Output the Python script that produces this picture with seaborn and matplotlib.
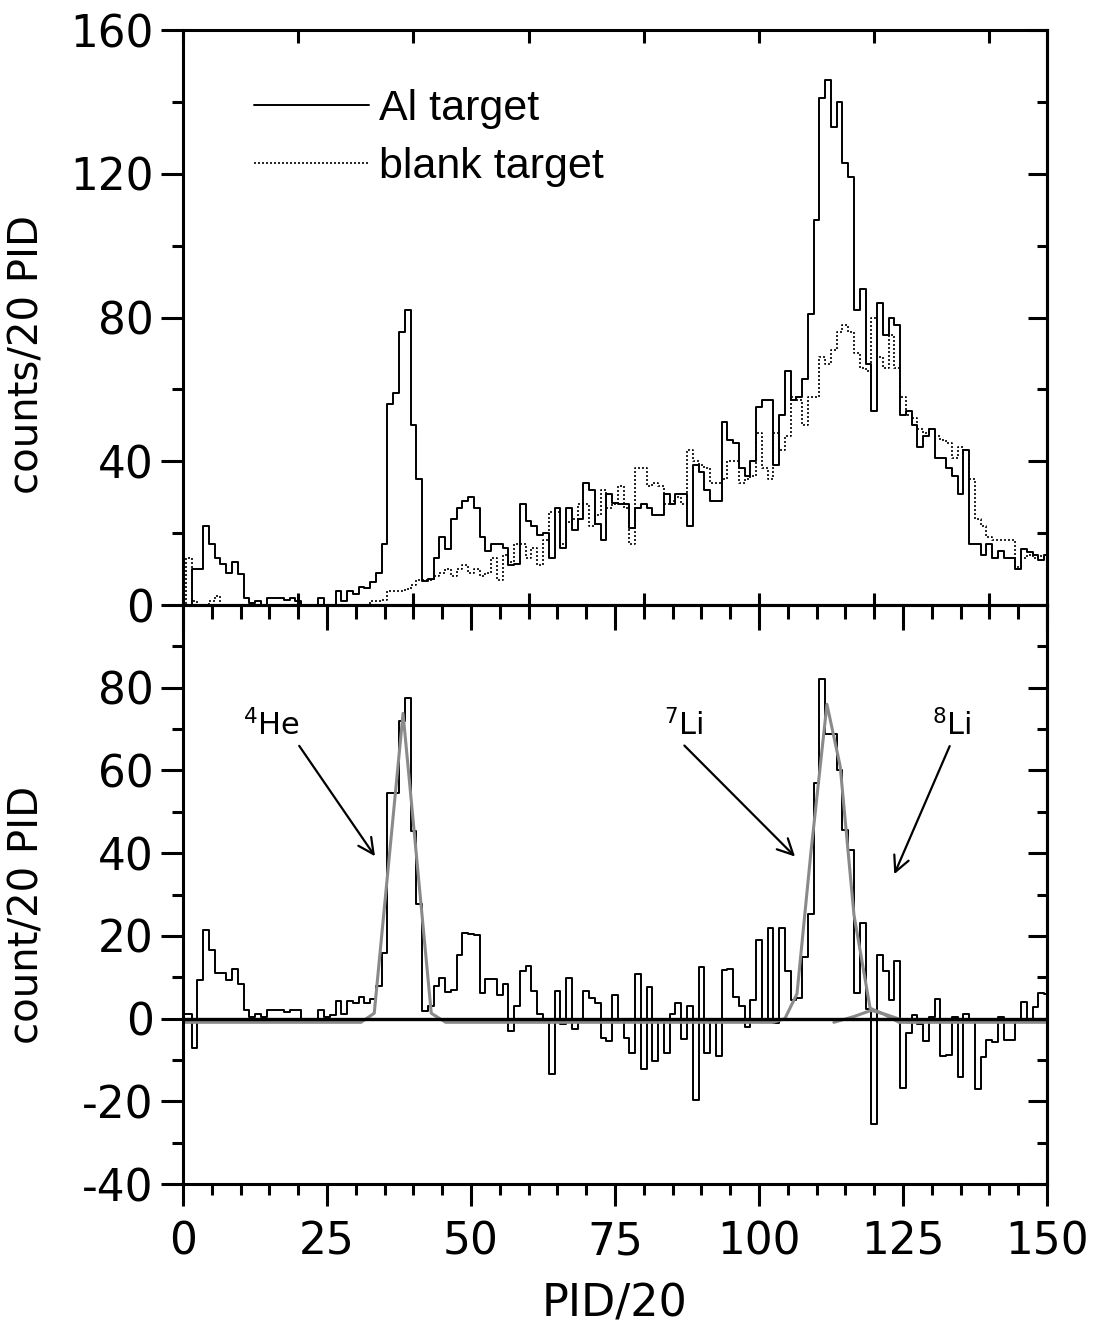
import numpy as np
import pandas as pd
import matplotlib
matplotlib.use("Agg")
import matplotlib.pyplot as plt
import seaborn as sns

# PID/20 bin centres
pid_bins = list(range(0, 151))

# counts per bin, Al target (top panel, solid)
al_target = [
    0, 0, 10, 10, 22, 17, 13, 11.5, 9, 12,
    8.5, 2, 0.5, 1, 0, 2, 2, 2, 1.5, 2,
    1, 0, 0, 0, 2, 0, 0, 4, 1, 4,
    3, 5, 4.7, 6.3, 9, 17, 56, 59, 76, 82,
    50, 35, 6.8, 7.3, 13, 19, 15.7, 24, 27, 29,
    30, 27, 19, 15, 17, 17, 16, 11, 11.5, 28,
    23.5, 22, 19.5, 20, 13, 27, 16, 27, 21, 24,
    34, 32, 22.5, 18, 31, 28.5, 28, 28, 21.5, 27,
    28, 27, 25, 25, 31, 28, 31, 31, 22, 39,
    37, 32, 29, 29, 51, 46, 45, 38, 36, 40,
    55, 57, 57, 39, 53, 65, 57, 58, 63, 81,
    107, 141, 146, 133, 140, 123, 119, 82, 88, 67,
    54, 84, 75, 80, 78, 53, 54, 50, 44, 47,
    49, 41, 41, 38, 36, 31, 43, 17, 17, 14,
    17, 13, 15, 13, 13, 10, 15.7, 14.7, 14, 12.6,
    14,
]

# counts per bin, blank target (top panel, dotted)
blank_target = [
    0, 13, 1, 0, 0, 1, 2.5, 0, 0, 0,
    0, 0, 0, 0, 0, 0, 0, 0, 0, 0,
    0, 0, 0, 0, 0, 0, 0, 0, 0, 0,
    0, 0, 0, 1, 1, 1.5, 4, 4, 4, 4.5,
    5.5, 7, 7, 7, 8, 9, 10, 8, 10, 11,
    9, 10, 8, 9, 13, 7, 14, 12, 17, 17,
    13, 16, 11, 18, 26, 26, 17, 23, 24, 28,
    28, 22, 25, 32, 27, 28, 33, 27, 17, 38,
    38, 33, 34, 33, 28, 29, 30, 28, 43, 40,
    39, 38, 34, 34, 35, 40, 40, 34, 35, 36,
    48, 38, 35, 48, 43, 47, 58, 57, 50, 58,
    58, 69, 67, 71, 76, 78, 76, 70, 66, 65,
    80, 69, 66, 75, 66, 58, 53, 52, 49, 48,
    49, 47, 46, 45, 41, 44, 43, 35, 24, 22,
    19, 18, 18, 18, 18, 10.5, 13, 14, 13, 13.5,
    13,
]

# Al minus blank (bottom panel)
difference = [
    1.2, 1.2, -7, 9.3, 21.5, 16.5, 11, 11, 9.3, 12,
    8.4, 2, 0.5, 1.2, 0.5, 2, 2, 2, 1.5, 2,
    2, -0.4, 0, 0, 2, 0.5, 0.8, 4.2, 1.2, 4.2,
    3.7, 5.2, 3.7, 4.7, 7.9, 15.8, 54.5, 54.5, 72, 77.6,
    45.3, 27.8, 1.9, 3, 7.9, 9.8, 6.5, 7, 15.3, 20.8,
    20.4, 20.3, 6.1, 9.5, 9.5, 5.6, 8.4, -3.1, 3, 11.6,
    12.8, 6.7, 1, 0, -13.3, 6.7, -1.3, 9.8, -2.5, 0,
    6.7, 4.9, 3.7, -4.6, -5.5, 5.6, 0, -4.7, -8.2, 10.7,
    -12.1, 7.6, -10.3, -0.4, -8.4, 1, 3.7, -5, 3, -19.7,
    12.5, -8.2, 0, -9, 11.7, 12, 5.1, 3, -2, 4.4,
    19, 0, 22, -1, 22, 11.5, 4.6, 5, 15, 25.4,
    57, 82.2, 68.8, 68.8, 60, 45.7, 40.8, 6.1, 23.1, 2.4,
    -25.5, 15.3, 11.6, 4.5, 13.9, -16.7, -3.4, 0.8, -1.3, -5.4,
    0.3, 4.7, -9, -8.8, 0.5, -14.2, 1, 0, -17, -9.2,
    -5.1, -5.7, 0.5, -5.1, -5.1, 0, 4.1, 0, 2.8, 6.1,
    6,
]

# gaussian fit curve (grey)
fit_x = [0, 30.9, 33.2, 38.2, 43.1, 45.6, 102.5, 104.5, 106.6, 109.0,
         111.8, 114.1, 116.5, 119.3, 121.5, 124.3, 150]
fit_y = [-0.9, -0.9, 1.3, 73.8, 1.3, -0.9, -0.9, 0, 6, 40,
         76, 61, 25, 2.5, 1.2, -0.9, -0.9]
li8_x = [113, 116.5, 119.5, 122, 126]
li8_y = [-0.9, 0.5, 2, 1, -0.9]

labels = ["$^{4}$He", "$^{7}$Li", "$^{8}$Li"]
label_xy = [(15.3, 71), (87, 71), (133.5, 71)]
arrow_from = [(19.9, 66.5), (86.7, 66.5), (133.3, 66.5)]
arrow_to = [(33.6, 38.7), (106.6, 38.7), (123.3, 34.3)]

df = pd.DataFrame({"pid": pid_bins, "al": al_target,
                   "blank": blank_target, "diff": difference})

sns.set_theme(style="ticks")
plt.rcParams["font.family"] = ["DejaVu Sans"]
plt.rcParams["axes.unicode_minus"] = False
for key in ["text.color", "axes.labelcolor", "xtick.color", "ytick.color",
            "axes.edgecolor"]:
    plt.rcParams[key] = "black"
plt.rcParams["axes.linewidth"] = 2.2

fig = plt.figure(figsize=(10.94, 13.4), dpi=100)
ax_top = fig.add_axes([0.1673, 0.5485, 0.7897, 0.4291])
ax_bot = fig.add_axes([0.1673, 0.1164, 0.7897, 0.4321])

tick_fs = 31.5
label_fs = 29

# top panel
sns.lineplot(data=df, x="pid", y="al", ax=ax_top, color="black", lw=1.4,
             drawstyle="steps-mid", label="Al target", errorbar=None)
sns.lineplot(data=df, x="pid", y="blank", ax=ax_top, color="black", lw=1.2,
             drawstyle="steps-mid", linestyle=(0, (1.2, 1.2)),
             label="blank target", errorbar=None)
ax_top.set_xlim(0, 150)
ax_top.set_ylim(0, 160)
ax_top.set_yticks([0, 40, 80, 120, 160])
ax_top.set_yticks([20, 60, 100, 140], minor=True)
ax_top.set_xticks(np.arange(0, 151, 20))
ax_top.tick_params(axis="x", direction="in", top=True, bottom=True,
                   labelbottom=False, length=9, width=2.2)
ax_top.tick_params(axis="y", which="major", direction="out", length=16,
                   width=2.2, labelsize=tick_fs, pad=5)
ax_top.tick_params(axis="y", which="minor", direction="out", length=8,
                   width=2.2)
sec = ax_top.secondary_yaxis("right")
sec.set_yticks([0, 40, 80, 120, 160])
sec.set_yticks([20, 60, 100, 140], minor=True)
sec.tick_params(which="major", direction="in", length=14, width=2.2,
                labelright=False)
sec.tick_params(which="minor", direction="in", length=7, width=2.2)
ax_top.set_xlabel("")
ax_top.set_ylabel("counts/20 PID", fontsize=label_fs)
ax_top.yaxis.set_label_coords(-0.157, 0.435)
ax_top.legend(loc="upper left", bbox_to_anchor=(0.037, 0.965), frameon=False,
              prop={"family": "Liberation Sans", "size": 31},
              handlelength=2.67, handletextpad=0.23, labelspacing=0.42)

# bottom panel
sns.lineplot(data=df, x="pid", y="diff", ax=ax_bot, color="black", lw=1.4,
             drawstyle="steps-mid", errorbar=None)
sns.lineplot(x=fit_x, y=fit_y, ax=ax_bot, color="#8a8a8a", lw=2.2,
             sort=False, errorbar=None)
sns.lineplot(x=li8_x, y=li8_y, ax=ax_bot, color="#8a8a8a", lw=2.2,
             sort=False, errorbar=None)
ax_bot.axhline(0, color="black", lw=2.4, zorder=3)
for txt, xy, a0, a1 in zip(labels, label_xy, arrow_from, arrow_to):
    ax_bot.text(xy[0], xy[1], txt, fontsize=22, ha="center", va="center")
    ax_bot.annotate("", xy=a1, xytext=a0,
                    arrowprops=dict(arrowstyle="->", lw=1.6, color="black",
                                    mutation_scale=28))
ax_bot.set_xlim(0, 150)
ax_bot.set_ylim(-40, 100)
ax_bot.set_xticks(np.arange(0, 151, 25))
ax_bot.set_xticks(np.arange(0, 151, 5), minor=True)
ax_bot.set_yticks([-40, -20, 0, 20, 40, 60, 80])
ax_bot.set_yticks([-30, -10, 10, 30, 50, 70, 90], minor=True)
ax_bot.tick_params(axis="both", which="major", direction="out", length=16,
                   width=2.2, labelsize=tick_fs, pad=5)
ax_bot.tick_params(axis="both", which="minor", direction="out", length=8,
                   width=2.2)
ax_bot.tick_params(axis="x", which="major", pad=10)
secx = ax_bot.secondary_xaxis("top")
secx.set_xticks(np.arange(0, 151, 25))
secx.set_xticks(np.arange(0, 151, 5), minor=True)
secx.tick_params(which="major", direction="in", length=18, width=2.2,
                 labeltop=False)
secx.tick_params(which="minor", direction="in", length=10, width=2.2)
secy = ax_bot.secondary_yaxis("right")
secy.set_yticks([-40, -20, 0, 20, 40, 60, 80])
secy.set_yticks([-30, -10, 10, 30, 50, 70, 90], minor=True)
secy.tick_params(which="major", direction="in", length=14, width=2.2,
                 labelright=False)
secy.tick_params(which="minor", direction="in", length=7, width=2.2)
ax_bot.set_xlabel("PID/20", fontsize=32, labelpad=14)
ax_bot.set_ylabel("count/20 PID", fontsize=label_fs)
ax_bot.yaxis.set_label_coords(-0.157, 0.465)

for ax in (ax_top, ax_bot):
    for s in ax.spines.values():
        s.set_linewidth(2.2)
        s.set_visible(True)

fig.savefig("out.png", dpi=100)
